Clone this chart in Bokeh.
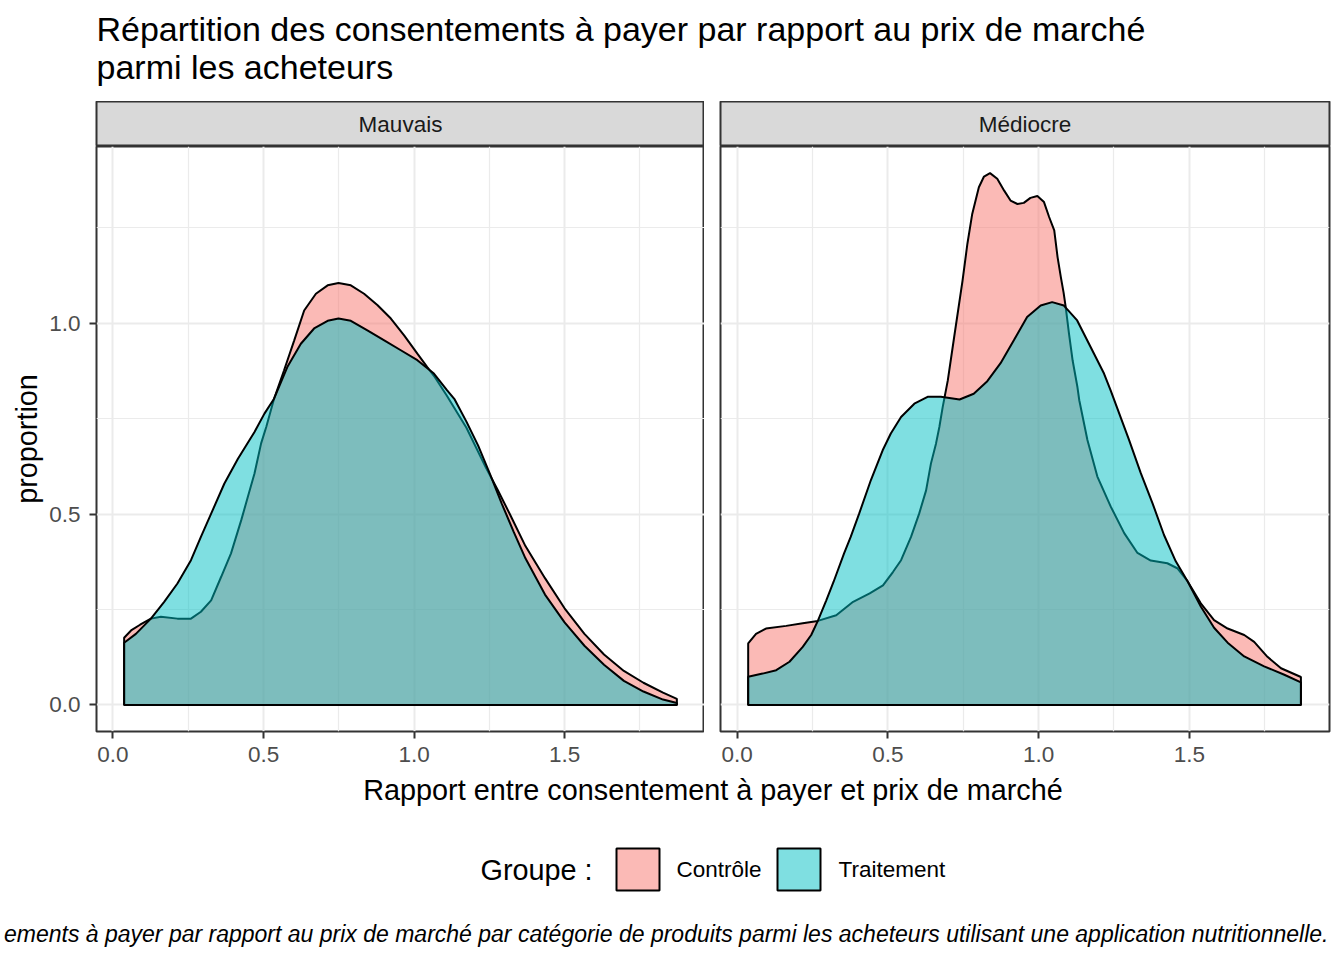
from bokeh.plotting import figure
from bokeh.models import Range1d, Label, FixedTicker
from bokeh.layouts import column, row
from bokeh.embed import file_html
from bokeh.resources import INLINE

FONT = "Liberation Sans"

# ---------------- data ----------------
title_lines = ["Répartition des consentements à payer par rapport au prix de marché",
               "parmi les acheteurs"]
facets = ["Mauvais", "Médiocre"]
groups = ["Contrôle", "Traitement"]
group_colors = ["#F8766D", "#00BFC4"]
x_ticks = [0.0, 0.5, 1.0, 1.5]
x_tick_labels = ["0.0", "0.5", "1.0", "1.5"]
x_minor = [0.25, 0.75, 1.25, 1.75]
y_ticks = [0.0, 0.5, 1.0]
y_tick_labels = ["0.0", "0.5", "1.0"]
y_minor = [0.25, 0.75, 1.25]
x_label = "Rapport entre consentement à payer et prix de marché"
y_label = "proportion"
legend_title = "Groupe :"
caption = ("ements à payer par rapport au prix de marché par catégorie de produits "
           "parmi les acheteurs utilisant une application nutritionnelle.")

mauvais_controle_x = [0.037, 0.060, 0.090, 0.126, 0.159, 0.214, 0.259, 0.292, 0.326, 0.359,
                      0.392, 0.426, 0.448, 0.470, 0.492, 0.509, 0.535, 0.568, 0.602, 0.635,
                      0.674, 0.713, 0.749, 0.790, 0.834, 0.879, 0.923, 0.967, 1.011, 1.044,
                      1.066, 1.108, 1.174, 1.239, 1.278, 1.318, 1.370, 1.435, 1.500, 1.566,
                      1.631, 1.697, 1.762, 1.827, 1.873]
mauvais_controle_y = [0.176, 0.195, 0.210, 0.226, 0.231, 0.226, 0.226, 0.244, 0.274, 0.335,
                      0.397, 0.484, 0.545, 0.606, 0.685, 0.728, 0.802, 0.876, 0.955, 1.033,
                      1.077, 1.099, 1.105, 1.099, 1.077, 1.047, 1.012, 0.968, 0.920, 0.885,
                      0.862, 0.811, 0.726, 0.621, 0.563, 0.500, 0.416, 0.332, 0.253, 0.186,
                      0.132, 0.089, 0.058, 0.032, 0.016]

mauvais_traitement_x = [0.037, 0.076, 0.126, 0.170, 0.214, 0.259, 0.292, 0.326, 0.370, 0.415,
                        0.470, 0.503, 0.535, 0.579, 0.624, 0.668, 0.713, 0.749, 0.790, 0.845,
                        0.901, 0.956, 1.011, 1.066, 1.110, 1.135, 1.174, 1.213, 1.252, 1.292,
                        1.331, 1.370, 1.435, 1.500, 1.566, 1.631, 1.697, 1.762, 1.827, 1.873]
mauvais_traitement_y = [0.163, 0.186, 0.226, 0.270, 0.318, 0.379, 0.440, 0.501, 0.580, 0.645,
                        0.715, 0.763, 0.802, 0.885, 0.946, 0.986, 1.006, 1.012, 1.006, 0.981,
                        0.955, 0.929, 0.903, 0.868, 0.824, 0.800, 0.742, 0.679, 0.605, 0.526,
                        0.453, 0.384, 0.289, 0.216, 0.155, 0.105, 0.063, 0.035, 0.014, 0.005]

mediocre_controle_x = [0.037, 0.063, 0.096, 0.163, 0.218, 0.268, 0.329, 0.385, 0.440, 0.484,
                       0.517, 0.544, 0.577, 0.604, 0.627, 0.643, 0.660, 0.671, 0.682, 0.699,
                       0.720, 0.748, 0.764, 0.780, 0.802, 0.819, 0.839, 0.863, 0.886, 0.907,
                       0.930, 0.951, 0.973, 0.996, 1.018, 1.035, 1.052, 1.063, 1.074, 1.083,
                       1.090, 1.101, 1.113, 1.129, 1.135, 1.162, 1.195, 1.239, 1.284, 1.328,
                       1.372, 1.427, 1.460, 1.494, 1.538, 1.582, 1.627, 1.682, 1.715, 1.759,
                       1.804, 1.870]
mediocre_controle_y = [0.161, 0.186, 0.200, 0.207, 0.214, 0.220, 0.235, 0.270, 0.292, 0.313,
                       0.348, 0.379, 0.440, 0.501, 0.562, 0.632, 0.685, 0.728, 0.780, 0.850,
                       0.963, 1.112, 1.208, 1.286, 1.356, 1.384, 1.393, 1.378, 1.347, 1.321,
                       1.312, 1.315, 1.328, 1.333, 1.317, 1.278, 1.243, 1.173, 1.120, 1.080,
                       1.042, 0.972, 0.902, 0.832, 0.798, 0.694, 0.598, 0.520, 0.450, 0.398,
                       0.378, 0.371, 0.358, 0.324, 0.266, 0.222, 0.200, 0.183, 0.165, 0.126,
                       0.096, 0.073]

mediocre_traitement_x = [0.037, 0.085, 0.130, 0.174, 0.218, 0.246, 0.268, 0.296, 0.320, 0.355,
                         0.377, 0.405, 0.444, 0.483, 0.510, 0.544, 0.588, 0.632, 0.676, 0.738,
                         0.785, 0.830, 0.874, 0.918, 0.962, 1.007, 1.045, 1.084, 1.128, 1.173,
                         1.217, 1.239, 1.300, 1.339, 1.378, 1.416, 1.455, 1.494, 1.538, 1.582,
                         1.627, 1.682, 1.748, 1.815, 1.870]
mediocre_traitement_y = [0.074, 0.082, 0.091, 0.113, 0.152, 0.183, 0.220, 0.274, 0.322, 0.397,
                         0.440, 0.501, 0.589, 0.667, 0.711, 0.754, 0.789, 0.807, 0.807, 0.800,
                         0.815, 0.848, 0.895, 0.955, 1.016, 1.046, 1.055, 1.046, 1.007, 0.937,
                         0.868, 0.824, 0.694, 0.607, 0.528, 0.445, 0.376, 0.324, 0.258, 0.202,
                         0.163, 0.127, 0.101, 0.079, 0.059]

series = {
    "Mauvais": [(mauvais_controle_x, mauvais_controle_y), (mauvais_traitement_x, mauvais_traitement_y)],
    "Médiocre": [(mediocre_controle_x, mediocre_controle_y), (mediocre_traitement_x, mediocre_traitement_y)],
}

# ---------------- scales (ggplot-like 5% expansion) ----------------
all_x = [v for f in series.values() for s in f for v in s[0]]
all_y = [v for f in series.values() for s in f for v in s[1]]
xmin, xmax = min(all_x), max(all_x)
xpad = 0.05 * (xmax - xmin)
ymax = max(all_y)
ypad = 0.05 * ymax

TOTAL_W = 1344
TOP_H = 101
STRIP_H = 45
FRAME_H = 585
AXIS_B = 41
BOTTOM_H = 960 - TOP_H - STRIP_H - FRAME_H - AXIS_B
BOT_Y0 = TOP_H + STRIP_H + FRAME_H + AXIS_B   # page y of the bottom block
LEFT_W = 704
RIGHT_W = TOTAL_W - LEFT_W
GRID = "#EBEBEB"
BORDER = "#333333"


def make_strip(name, width, mbl, mbr):
    s = figure(width=width, height=STRIP_H, x_range=Range1d(0, 1), y_range=Range1d(STRIP_H, 0),
               x_axis_location=None, y_axis_location=None, output_backend="svg",
               toolbar_location=None, min_border_left=mbl, min_border_right=mbr,
               min_border_top=0, min_border_bottom=0)
    s.grid.visible = False
    s.background_fill_color = "#D9D9D9"
    s.outline_line_color = BORDER
    s.outline_line_width = 2
    s.add_layout(Label(x=0.5, y=23, text=name, text_align="center", text_baseline="middle",
                       text_font=FONT, text_font_size="22.5px", text_color="#1A1A1A"))
    return s


def make_panel(name, width, mbl, mbr, show_y):
    p = figure(width=width, height=FRAME_H + AXIS_B,
               x_range=Range1d(xmin - xpad, xmax + xpad),
               y_range=Range1d(-ypad, ymax + ypad),
               y_axis_location="left" if show_y else None,
               output_backend="svg", toolbar_location=None,
               min_border_left=mbl, min_border_right=mbr,
               min_border_top=0, min_border_bottom=AXIS_B)
    p.background_fill_color = "white"
    p.outline_line_color = BORDER
    p.outline_line_width = 2
    p.xaxis.ticker = FixedTicker(ticks=x_ticks, minor_ticks=x_minor)
    p.xaxis.major_label_overrides = {t: l for t, l in zip(x_ticks, x_tick_labels)}
    axes = [p.xaxis]
    if show_y:
        p.yaxis.ticker = FixedTicker(ticks=y_ticks, minor_ticks=y_minor)
        p.yaxis.major_label_overrides = {t: l for t, l in zip(y_ticks, y_tick_labels)}
        p.yaxis.axis_label = y_label
        p.yaxis.axis_label_text_font = FONT
        p.yaxis.axis_label_text_font_size = "28.8px"
        p.yaxis.axis_label_text_font_style = "normal"
        p.yaxis.axis_label_text_color = "black"
        p.yaxis.axis_label_standoff = 3
        p.yaxis.major_label_standoff = 9
        axes.append(p.yaxis)
    else:
        p.ygrid.ticker = FixedTicker(ticks=y_ticks, minor_ticks=y_minor)
    p.xaxis.major_label_standoff = 8
    for ax in axes:
        ax.axis_line_color = None
        ax.major_tick_line_color = BORDER
        ax.major_tick_line_width = 2
        ax.major_tick_in = 0
        ax.major_tick_out = 7
        ax.minor_tick_line_color = None
        ax.major_label_text_font = FONT
        ax.major_label_text_font_size = "22.5px"
        ax.major_label_text_color = "#4D4D4D"
    for g in (p.xgrid, p.ygrid):
        g.grid_line_color = GRID
        g.grid_line_width = 2
        g.minor_grid_line_color = GRID
        g.minor_grid_line_width = 1.2
    for (xs, ys), col in zip(series[name], group_colors):
        xc = [xs[0]] + list(xs) + [xs[-1]]
        yc = [0.0] + list(ys) + [0.0]
        p.patch(xc, yc, fill_color=col, fill_alpha=0.5, line_color="black", line_width=2)
    return p


# top (title)
top = figure(width=TOTAL_W, height=TOP_H, x_range=Range1d(0, TOTAL_W), y_range=Range1d(TOP_H, 0),
             x_axis_location=None, y_axis_location=None, output_backend="svg",
             toolbar_location=None, min_border=0)
top.grid.visible = False
top.outline_line_color = None
for txt, ym in zip(title_lines, [28.5, 66.5]):
    top.add_layout(Label(x=96, y=ym, text=txt, text_font=FONT, text_font_size="34px",
                         text_color="black", text_baseline="middle", text_align="left"))

strip_l = make_strip(facets[0], LEFT_W, 96, 0)
panel_l = make_panel(facets[0], LEFT_W, 96, 0, True)
strip_r = make_strip(facets[1], RIGHT_W, 16, 15)
panel_r = make_panel(facets[1], RIGHT_W, 16, 15, False)

# bottom (x label, legend, caption); local y = page y - BOT_Y0
bot = figure(width=TOTAL_W, height=BOTTOM_H, x_range=Range1d(0, TOTAL_W), y_range=Range1d(BOTTOM_H, 0),
             x_axis_location=None, y_axis_location=None, output_backend="svg",
             toolbar_location=None, min_border=0)
bot.grid.visible = False
bot.outline_line_color = None
bot.add_layout(Label(x=712.5, y=789 - BOT_Y0, text=x_label, text_font=FONT, text_font_size="28.8px",
                     text_color="black", text_align="center", text_baseline="middle"))
bot.add_layout(Label(x=480, y=869 - BOT_Y0, text=legend_title, text_font=FONT, text_font_size="28.8px",
                     text_color="black", text_align="left", text_baseline="middle"))
key_lefts = [616, 777]
label_lefts = [676, 838]
for g, col, kl, ll in zip(groups, group_colors, key_lefts, label_lefts):
    bot.quad(left=kl, right=kl + 43, top=848 - BOT_Y0, bottom=890 - BOT_Y0, fill_color=col,
             fill_alpha=0.5, line_color="black", line_width=2)
    bot.add_layout(Label(x=ll, y=869 - BOT_Y0, text=g, text_font=FONT, text_font_size="22.5px",
                         text_color="black", text_align="left", text_baseline="middle"))
bot.add_layout(Label(x=1328, y=933 - BOT_Y0, text=caption, text_font=FONT, text_font_size="23px",
                     text_font_style="italic", text_color="black", text_align="right",
                     text_baseline="middle"))

layout = column(top, row(column(strip_l, panel_l), column(strip_r, panel_r)), bot)

open("out.html", "w").write(file_html(layout, INLINE))
